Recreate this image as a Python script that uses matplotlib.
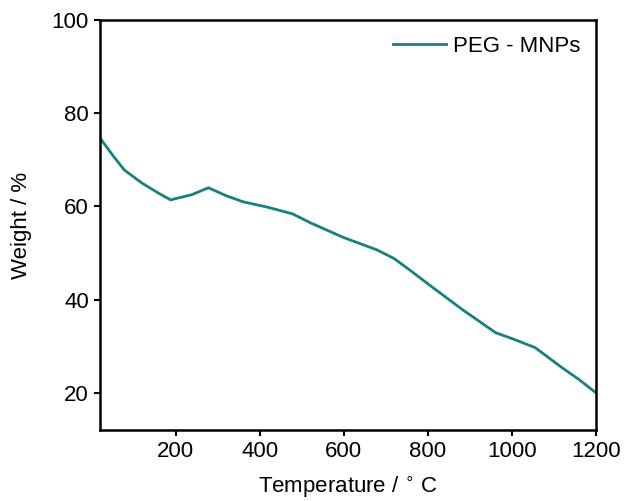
import numpy as np
import matplotlib.pyplot as plt

plt.rcParams['font.family'] = ['Liberation Sans', 'DejaVu Sans']

# TGA curve
temperature = [20, 50, 78, 120, 160, 188, 238, 278, 320, 360, 420, 478, 520,
               600, 678, 720, 756, 813, 883, 961, 1001, 1055, 1119, 1160, 1200]
weight = [74.7, 71.0, 67.8, 65.0, 62.8, 61.4, 62.5, 64.0, 62.3, 61.0, 59.8,
          58.4, 56.5, 53.3, 50.7, 48.8, 46.4, 42.5, 37.8, 32.9, 31.6, 29.7,
          25.4, 22.8, 20.0]

fig = plt.figure(figsize=(6.3, 5.01), dpi=100)
ax = fig.add_axes([0.1587, 0.1417, 0.7873, 0.8183])
ax.plot(temperature, weight, color='#178080', lw=2, label='PEG - MNPs')

ax.set_xlim(20, 1200)
ax.set_ylim(12, 100)
ax.set_xticks([200, 400, 600, 800, 1000, 1200])
ax.set_yticks([20, 40, 60, 80, 100])
ax.tick_params(labelsize=16, width=1.5, length=4, direction='out', pad=4)
for s in ax.spines.values():
    s.set_linewidth(1.8)

ax.set_xlabel(r'Temperature / $^{\circ}$ C', fontsize=16, labelpad=9)
ax.set_ylabel('Weight / %', fontsize=16, labelpad=14)
ax.legend(loc='upper right', frameon=False, fontsize=16, handlelength=2.4,
          handletextpad=0.3, borderaxespad=0.3)

fig.savefig('out.png', dpi=100)
